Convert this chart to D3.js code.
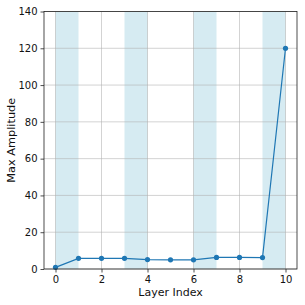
<!DOCTYPE html>
<html>
<head>
<meta charset="utf-8">
<script src="https://cdn.jsdelivr.net/npm/d3@7"></script>
<style>
  body { margin: 0; background: white; }
  text { font-family: "DejaVu Sans", sans-serif; }
</style>
</head>
<body>
<svg id="chart"></svg>
<script>
// data
const layers = [0, 1, 2, 3, 4, 5, 6, 7, 8, 9, 10];
const maxAmp = [0.9, 5.8, 5.8, 5.8, 5.1, 5.0, 5.0, 6.3, 6.3, 6.2, 120];
const bands = [[0, 1], [3, 4], [6, 7], [9, 10]];
const xTicks = [0, 2, 4, 6, 8, 10];
const yTicks = [0, 20, 40, 60, 80, 100, 120, 140];

const width = 305, height = 305;
const margin = { top: 11.5, left: 44, right: 8, bottom: 36 };

const svg = d3.select('#chart')
  .attr('width', width)
  .attr('height', height);

const x = d3.scaleLinear().domain([-0.5, 10.5]).range([margin.left, width - margin.right]);
const y = d3.scaleLinear().domain([0, 140]).range([height - margin.bottom, margin.top]);

// shaded bands
svg.append('g').selectAll('rect')
  .data(bands)
  .enter()
  .append('rect')
  .attr('x', d => x(d[0]))
  .attr('width', d => x(d[1]) - x(d[0]))
  .attr('y', y(140))
  .attr('height', y(0) - y(140))
  .attr('fill', '#add8e6')
  .attr('fill-opacity', 0.5);

// grid
const grid = svg.append('g').attr('stroke', '#b0b0b0').attr('stroke-opacity', 0.7).attr('stroke-width', 0.8);
grid.selectAll('.gx').data(xTicks).enter().append('line')
  .attr('x1', d => x(d)).attr('x2', d => x(d))
  .attr('y1', y(0)).attr('y2', y(140));
grid.selectAll('.gy').data(yTicks).enter().append('line')
  .attr('x1', x(-0.5)).attr('x2', x(10.5))
  .attr('y1', d => y(d)).attr('y2', d => y(d));

// line + markers
const line = d3.line().x((d, i) => x(layers[i])).y(d => y(d));
svg.append('path')
  .datum(maxAmp)
  .attr('fill', 'none')
  .attr('stroke', '#1f77b4')
  .attr('stroke-width', 1.2)
  .attr('d', line);

svg.append('g').selectAll('circle')
  .data(maxAmp)
  .enter()
  .append('circle')
  .attr('cx', (d, i) => x(layers[i]))
  .attr('cy', d => y(d))
  .attr('r', 2.6)
  .attr('fill', '#1f77b4');

// axes
const xAxis = svg.append('g')
  .attr('transform', `translate(0,${y(0)})`)
  .call(d3.axisBottom(x).tickValues(xTicks).tickSize(3.5).tickPadding(3).tickFormat(d3.format('d')));
const yAxis = svg.append('g')
  .attr('transform', `translate(${x(-0.5)},0)`)
  .call(d3.axisLeft(y).tickValues(yTicks).tickSize(3.5).tickPadding(3).tickFormat(d3.format('d')));

[xAxis, yAxis].forEach(a => {
  a.select('.domain').remove();
  a.selectAll('line').attr('stroke', '#222').attr('stroke-width', 0.8);
  a.selectAll('text').style('font-size', '10px').attr('fill', '#111');
});

// frame
svg.append('rect')
  .attr('x', x(-0.5)).attr('y', y(140))
  .attr('width', x(10.5) - x(-0.5)).attr('height', y(0) - y(140))
  .attr('fill', 'none')
  .attr('stroke', '#222')
  .attr('stroke-width', 0.8);

svg.append('text')
  .attr('x', (x(-0.5) + x(10.5)) / 2)
  .attr('y', 296)
  .attr('text-anchor', 'middle')
  .style('font-size', '11px')
  .attr('fill', '#111')
  .text('Layer Index');

svg.append('text')
  .attr('transform', `translate(15,${(y(0) + y(140)) / 2}) rotate(-90)`)
  .attr('text-anchor', 'middle')
  .style('font-size', '11.3px')
  .attr('fill', '#111')
  .text('Max Amplitude');
</script>
</body>
</html>
